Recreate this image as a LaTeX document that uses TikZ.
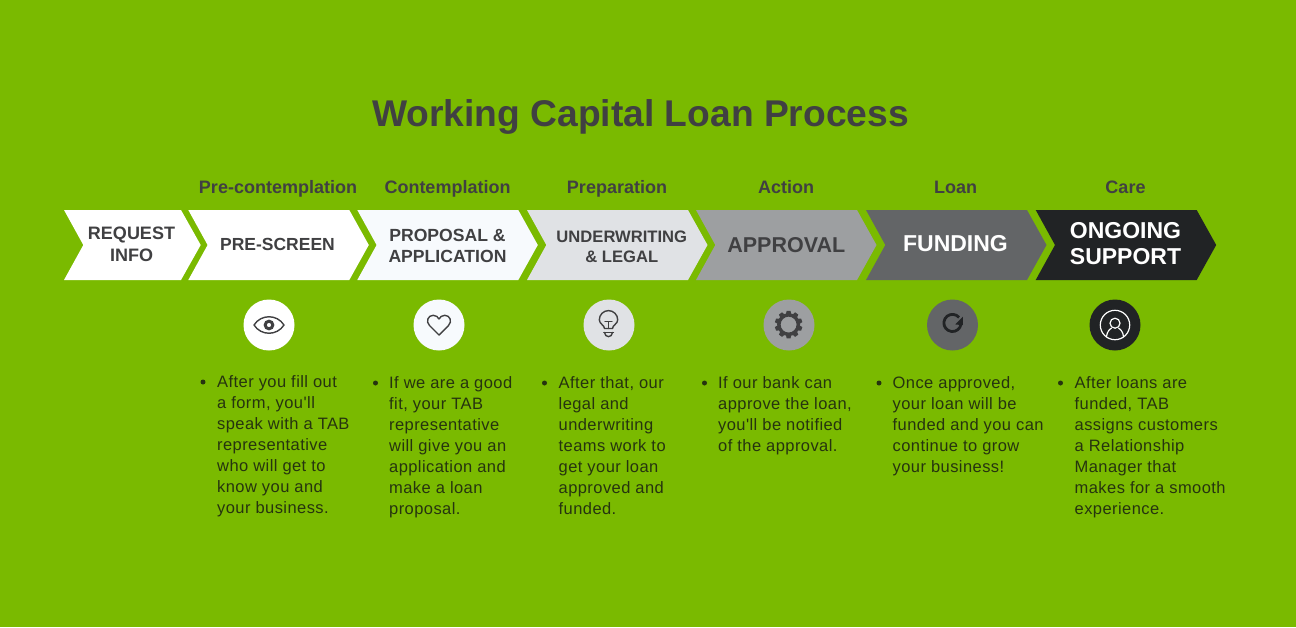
\documentclass[tikz,border=0pt]{standalone}
\usepackage{fontspec}
\setmainfont{Liberation Sans}
\newfontfamily\bodyf[LetterSpace=2.6]{Liberation Sans}
\definecolor{bg}{HTML}{7ABA00}
\definecolor{ink}{HTML}{404042}
\definecolor{bodyink}{HTML}{26340F}
\definecolor{c1}{HTML}{FFFFFF}
\definecolor{c2}{HTML}{F7FAFD}
\definecolor{c3}{HTML}{E0E2E5}
\definecolor{c4}{HTML}{9D9FA1}
\definecolor{c5}{HTML}{636567}
\definecolor{c6}{HTML}{212325}
\tikzset{
  x=1pt,y=-1pt,
  stage/.style={anchor=base,font=\fontsize{18}{20}\selectfont\bfseries,text=ink,inner sep=0,align=center},
  lbl/.style={text=ink,inner sep=0,align=center,font=\bfseries},
  para/.style={anchor=north west,inner sep=0,align=left,text=bodyink,font=\bodyf\fontsize{16.5}{21}\selectfont},
  bul/.style={circle,fill=bodyink,minimum size=5pt,inner sep=0},
  disc/.style={circle,minimum size=51pt,inner sep=0},
  ico/.style={draw=ink,line width=1.4pt,fill=none,line join=round,line cap=round},
}
\newcommand{\chev}[3]{% left, color, name
  \fill[#2] (#1,210) -- ({#1+161},210) -- ({#1+180.5},245) -- ({#1+161},280) -- (#1,280) -- ({#1+19.3},245) -- cycle;
  \coordinate (#3) at ({#1+90},245);
}
\begin{document}
\begin{tikzpicture}
\fill[bg] (0,0) rectangle (1296,627);
\useasboundingbox (0,0) rectangle (1296,627);
\node[anchor=base,text=ink,inner sep=0,font=\fontsize{37.2}{40}\selectfont\bfseries] (title) at (640.5,126) {Working Capital Loan Process};

\node[stage] (s1) at (278,193) {Pre-contemplation};
\node[stage] (s2) at (447.5,193) {Contemplation};
\node[stage] (s3) at (617,193) {Preparation};
\node[stage] (s4) at (786,193) {Action};
\node[stage] (s5) at (955.5,193) {Loan};
\node[stage] (s6) at (1125.5,193) {Care};

\fill[c1] (64,210) -- (181,210) -- (200.7,245) -- (181,280) -- (64,280) -- (83.3,245) -- cycle;
\chev{188.3}{c1}{a1}
\chev{357.3}{c2}{a2}
\chev{527}{c3}{a3}
\chev{696}{c4}{a4}
\chev{866}{c5}{a5}
\chev{1035.7}{c6}{a6}

\node[lbl,font=\fontsize{18}{22}\selectfont\bfseries] (b0) at (131.5,244) {REQUEST\\INFO};
\node[lbl,font=\fontsize{17.5}{21}\selectfont\bfseries] (b1) at (277.5,244) {PRE-SCREEN};
\node[lbl,font=\fontsize{17.6}{21}\selectfont\bfseries] (b2) at (447.5,245.5) {PROPOSAL \&\\APPLICATION};
\node[lbl,font=\fontsize{16.6}{20}\selectfont\bfseries] (b3) at (621.8,247) {UNDERWRITING\\\& LEGAL};
\node[lbl,font=\fontsize{21.5}{26}\selectfont\bfseries] (b4) at (786.3,245) {APPROVAL};
\node[lbl,text=white,font=\fontsize{23}{26}\selectfont\bfseries] (b5) at (955.5,244) {FUNDING};
\node[lbl,text=white,font=\fontsize{23}{26}\selectfont\bfseries] (b6) at (1125.5,244) {ONGOING\\SUPPORT};

\node[disc,fill=c1] (d1) at (269,325) {};
\node[disc,fill=c2] (d2) at (439,325) {};
\node[disc,fill=c3] (d3) at (609,325) {};
\node[disc,fill=c4] (d4) at (789,325) {};
\node[disc,fill=c5] (d5) at (952.5,325) {};
\node[disc,fill=c6] (d6) at (1115,325) {};

% eye
\begin{scope}[shift={(269,325)}]
\draw[ico] (-15,0) .. controls (-8,-11) and (8,-11) .. (15,0) .. controls (8,11) and (-8,11) .. (-15,0) -- cycle;
\draw[ink,line width=3pt] (0,0) circle (3.8pt);
\end{scope}
% heart
\begin{scope}[shift={(439,325)}]
\draw[ico] (0,10) -- (-9.5,0.5) .. controls (-13.5,-3.5) and (-11,-9.7) .. (-5.8,-9.7) .. controls (-3,-9.7) and (-1,-8) .. (0,-6) .. controls (1,-8) and (3,-9.7) .. (5.8,-9.7) .. controls (11,-9.7) and (13.5,-3.5) .. (9.5,0.5) -- cycle;
\end{scope}
% bulb
\begin{scope}[shift={(608.5,325)}]
\draw[ico] (-4,3.5) .. controls (-4,0) and (-9.2,-1) .. (-9.2,-5.2) arc[start angle=180,end angle=0,radius=9.2pt] .. controls (9.2,-1) and (4,0) .. (4,3.5) -- cycle;
\draw[ico] (-3.5,-3.3) -- (3.5,-3.3) (0,-3.3) -- (0,3.5);
\draw[ico] (-4.7,7.5) -- (5,7.5);
\draw[ico] (-4,7.5) .. controls (-3.5,13) and (3.5,13) .. (4,7.5);
\end{scope}
% gear
\begin{scope}[shift={(788.6,324.6)}]
\draw[ink,line width=3.4pt] (0,0) circle (9.7pt);
\foreach \a in {0,36,...,324}
  \fill[ink,rotate=\a] (-1.9,-13.8) -- (1.9,-13.8) -- (2.8,-10) -- (-2.8,-10) -- cycle;
\end{scope}
% refresh
\begin{scope}[shift={(952.5,325)}]
\draw[c6,line width=2.8pt] (8.5,-1) arc[start angle=-7,end angle=-320,radius=8.6pt];
\fill[c6] (10.4,-8.4) -- (10.4,0.2) -- (2.6,-0.6) -- cycle;
\end{scope}
% user
\begin{scope}[shift={(1115,325)}]
\draw[white,line width=1.2pt] (0,0) circle (14.7pt);
\draw[white,line width=1.2pt] (0,-1.8) circle (5pt);
\draw[white,line width=1.2pt] (-8.6,11.8) .. controls (-8,6.5) and (-5,3.6) .. (-3.4,3.2) (3.4,3.2) .. controls (5,3.6) and (8,6.5) .. (8.6,11.8);
\end{scope}

\node[bul] (p1) at (203,382) {};
\node[bul] (p2) at (375.5,383) {};
\node[bul] (p3) at (544.5,383) {};
\node[bul] (p4) at (704.5,383) {};
\node[bul] (p5) at (879,383) {};
\node[bul] (p6) at (1060.5,383) {};

\node[para] (t1) at (217,375.5) {After you fill out\\a form, you'll\\speak with a TAB\\representative\\who will get to\\know you and\\your business.};
\node[para] (t2) at (389,376.5) {If we are a good\\fit, your TAB\\representative\\will give you an\\application and\\make a loan\\proposal.};
\node[para] (t3) at (558.5,376.5) {After that, our\\legal and\\underwriting\\teams work to\\get your loan\\approved and\\funded.};
\node[para] (t4) at (718,376.5) {If our bank can\\approve the loan,\\you'll be notified\\of the approval.};
\node[para] (t5) at (892.5,376.5) {Once approved,\\your loan will be\\funded and you can\\continue to grow\\your business!};
\node[para] (t6) at (1074.5,376.5) {After loans are\\funded, TAB\\assigns customers\\a Relationship\\Manager that\\makes for a smooth\\experience.};
\end{tikzpicture}
\end{document}
